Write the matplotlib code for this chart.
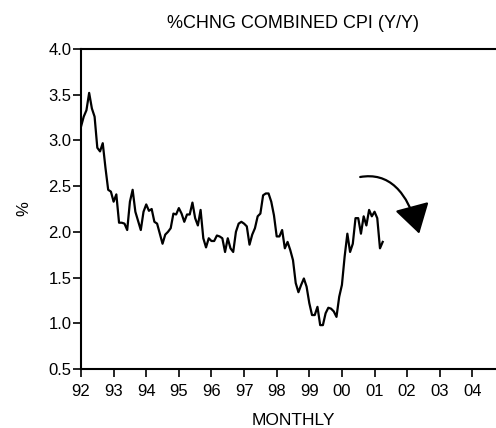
import matplotlib
matplotlib.use("Agg")
import matplotlib.pyplot as plt
import numpy as np

plt.rcParams['font.family'] = ['Liberation Sans', 'DejaVu Sans']

# Monthly % change, Jan 1992 .. Apr 2001
start_year = 1992
cpi_yoy = [
    3.15, 3.26, 3.33, 3.52, 3.35, 3.26, 2.92, 2.88, 2.97, 2.70, 2.46, 2.44,   # 92
    2.33, 2.41, 2.10, 2.10, 2.09, 2.02, 2.33, 2.46, 2.22, 2.12, 2.02, 2.22,   # 93
    2.30, 2.23, 2.25, 2.11, 2.09, 1.98, 1.87, 1.97, 2.00, 2.04, 2.20, 2.19,   # 94
    2.26, 2.20, 2.11, 2.19, 2.19, 2.32, 2.15, 2.07, 2.24, 1.93, 1.83, 1.93,   # 95
    1.90, 1.90, 1.96, 1.95, 1.93, 1.78, 1.93, 1.82, 1.78, 2.00, 2.09, 2.11,   # 96
    2.09, 2.06, 1.86, 1.97, 2.04, 2.17, 2.20, 2.40, 2.42, 2.42, 2.33, 2.18,   # 97
    1.95, 1.95, 2.02, 1.82, 1.89, 1.80, 1.69, 1.44, 1.34, 1.42, 1.49, 1.40,   # 98
    1.22, 1.09, 1.09, 1.18, 0.98, 0.98, 1.11, 1.17, 1.16, 1.13, 1.07, 1.29,   # 99
    1.42, 1.73, 1.98, 1.78, 1.87, 2.15, 2.15, 1.98, 2.17, 2.07, 2.24, 2.17,   # 00
    2.22, 2.15, 1.82, 1.89,                                                   # 01
]
year_ticks = list(range(1992, 2005))
year_labels = ['92', '93', '94', '95', '96', '97', '98', '99', '00', '01', '02', '03', '04']
y_ticks = [0.5, 1.0, 1.5, 2.0, 2.5, 3.0, 3.5, 4.0]

# annotation arrow (data coords)
arrow_start = (2000.56, 2.60)
arrow_end = (2002.37, 1.98)

x = start_year + np.arange(len(cpi_yoy)) / 12.0

fig = plt.figure(figsize=(4.96, 4.28), dpi=100)
ax = fig.add_axes([81/496, 1 - 369/428, (505 - 81)/496, (369 - 49)/428])

ax.plot(x, cpi_yoy, color='black', lw=1.6)

ax.set_xlim(1992, 2005)
ax.set_ylim(0.5, 4.0)
ax.set_xticks(year_ticks)
ax.set_xticklabels(year_labels)
ax.set_yticks(y_ticks)
ax.set_yticklabels([f'{v:.1f}' for v in y_ticks])

for s in ['left', 'bottom', 'top']:
    ax.spines[s].set_linewidth(1.5)
ax.spines['right'].set_visible(False)
ax.tick_params(axis='both', direction='out', length=6, width=1.2, labelsize=12)
ax.tick_params(axis='x', pad=5)
ax.tick_params(axis='y', pad=1)

ax.set_title('%CHNG COMBINED CPI (Y/Y)', fontsize=13, pad=15)
ax.set_xlabel('MONTHLY', fontsize=12.5, labelpad=10)
ax.set_ylabel('%', fontsize=12, labelpad=12)

ax.annotate('', xy=arrow_end, xytext=arrow_start,
            arrowprops=dict(arrowstyle='-|>,head_length=0.9,head_width=0.55',
                            connectionstyle='angle3,angleA=10,angleB=105',
                            color='black', lw=1.6, mutation_scale=20,
                            shrinkA=0, shrinkB=0))

fig.savefig('out.png', dpi=100)
